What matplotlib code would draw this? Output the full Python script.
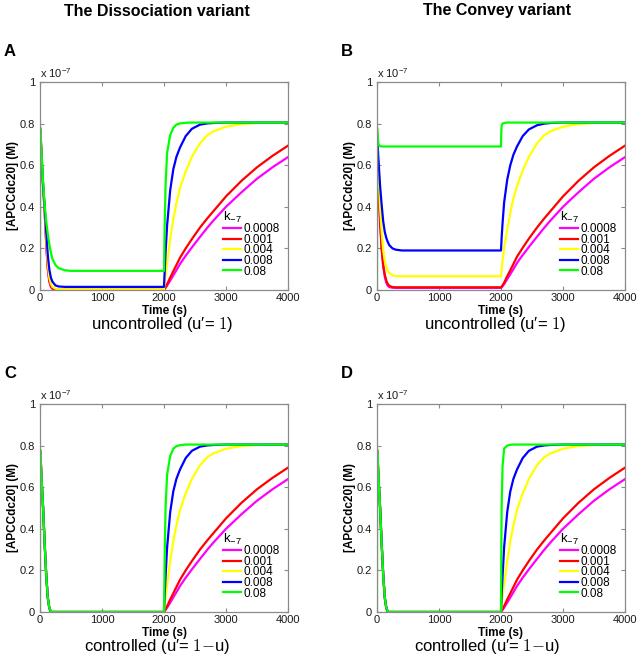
import matplotlib
matplotlib.use('Agg')
import matplotlib.pyplot as plt
from matplotlib.lines import Line2D

plt.rcParams['font.family'] = ['Liberation Sans', 'DejaVu Sans']
plt.rcParams['mathtext.fontset'] = 'custom'
plt.rcParams['mathtext.rm'] = 'Liberation Sans'
plt.rcParams['mathtext.it'] = 'Liberation Sans:italic'
plt.rcParams['mathtext.bf'] = 'Liberation Sans:bold'

# ---------------- data (concentration in units of 1e-7 M) ----------------
K_LABELS = ['0.0008', '0.001', '0.004', '0.008', '0.08']
COLORS = ['#ff00ff', '#ff0000', '#ffff00', '#0000ff', '#00ff00']

X_TICKS = [0, 1000, 2000, 3000, 4000]
Y_TICKS = [0, 0.2, 0.4, 0.6, 0.8, 1.0]
Y_TICKLABELS = ['0', '0.2', '0.4', '0.6', '0.8', '1']

T_EARLY = [0, 2, 10, 25, 50, 75, 100, 125, 150, 175, 200, 250, 300, 400, 500, 1000, 1500, 2000]
T_LATE = [2005, 2010, 2025, 2050, 2100, 2150, 2200, 2258, 2350, 2450, 2580, 2700, 2800,
          3000, 3250, 3500, 3750, 4000]

# Panel A - dissociation, uncontrolled
A_MAG_E = [0.78, 0.775, 0.74, 0.64, 0.5, 0.38, 0.22, 0.10, 0.04, 0.015, 0.006, 0.001, 0, 0, 0, 0, 0, 0]
A_RED_E = [0.78, 0.775, 0.74, 0.64, 0.5, 0.38, 0.23, 0.11, 0.045, 0.02, 0.008, 0.002, 0.001, 0.001, 0.001, 0.001, 0.001, 0.001]
A_YEL_E = [0.78, 0.775, 0.74, 0.64, 0.5, 0.39, 0.25, 0.13, 0.06, 0.03, 0.015, 0.006, 0.004, 0.003, 0.003, 0.003, 0.003, 0.003]
A_BLU_E = [0.78, 0.775, 0.74, 0.64, 0.5, 0.40, 0.28, 0.17, 0.10, 0.06, 0.04, 0.022, 0.017, 0.015, 0.015, 0.015, 0.015, 0.015]
A_GRN_E = [0.0, 0.78, 0.75, 0.66, 0.52, 0.41, 0.33, 0.27, 0.22, 0.18, 0.15, 0.12, 0.105, 0.095, 0.092, 0.092, 0.092, 0.092]

MAG_L = [0.002, 0.004, 0.01, 0.021, 0.045, 0.07, 0.095, 0.125, 0.165, 0.205, 0.255, 0.30, 0.335, 0.40, 0.47, 0.535, 0.59, 0.639]
RED_L = [0.003, 0.006, 0.014, 0.028, 0.06, 0.09, 0.12, 0.155, 0.20, 0.245, 0.30, 0.345, 0.38, 0.45, 0.525, 0.59, 0.645, 0.694]
YEL_L = [0.017, 0.03, 0.07, 0.13, 0.245, 0.34, 0.415, 0.49, 0.57, 0.64, 0.705, 0.745, 0.763, 0.785, 0.798, 0.803, 0.805, 0.805]
A_BLU_L = [0.05, 0.085, 0.18, 0.31, 0.48, 0.58, 0.64, 0.685, 0.74, 0.775, 0.795, 0.801, 0.803, 0.805, 0.805, 0.805, 0.805, 0.805]
A_GRN_L = [0.2, 0.3, 0.5, 0.66, 0.745, 0.78, 0.795, 0.801, 0.804, 0.805, 0.805, 0.805, 0.805, 0.805, 0.805, 0.805, 0.805, 0.805]

# Panel B - convey, uncontrolled
B_MAG_E = [0.74, 0.735, 0.68, 0.5, 0.32, 0.2, 0.115, 0.065, 0.035, 0.02, 0.014, 0.011, 0.01, 0.01, 0.01, 0.01, 0.01, 0.01]
B_RED_E = [0.74, 0.735, 0.68, 0.5, 0.33, 0.2, 0.12, 0.075, 0.045, 0.028, 0.02, 0.014, 0.013, 0.013, 0.013, 0.013, 0.013, 0.013]
B_YEL_E = [0.74, 0.735, 0.69, 0.55, 0.4, 0.28, 0.19, 0.14, 0.11, 0.09, 0.08, 0.07, 0.067, 0.066, 0.066, 0.066, 0.066, 0.066]
B_BLU_E = [0.74, 0.735, 0.70, 0.62, 0.5, 0.41, 0.33, 0.28, 0.25, 0.23, 0.215, 0.20, 0.194, 0.19, 0.19, 0.19, 0.19, 0.19]
B_GRN_E = [0.0, 0.78, 0.74, 0.70, 0.692, 0.69, 0.69, 0.69, 0.69, 0.69, 0.69, 0.69, 0.69, 0.69, 0.69, 0.69, 0.69, 0.69]

B_MAG_L = [0.011, 0.013, 0.018, 0.028, 0.052, 0.076, 0.10, 0.13, 0.168, 0.207, 0.256, 0.30, 0.335, 0.40, 0.47, 0.535, 0.59, 0.639]
B_RED_L = [0.014, 0.016, 0.022, 0.035, 0.066, 0.095, 0.125, 0.16, 0.203, 0.247, 0.30, 0.345, 0.38, 0.45, 0.525, 0.59, 0.645, 0.694]
B_YEL_L = [0.08, 0.10, 0.14, 0.20, 0.29, 0.37, 0.44, 0.50, 0.575, 0.64, 0.705, 0.745, 0.763, 0.785, 0.798, 0.803, 0.805, 0.805]
B_BLU_L = [0.22, 0.25, 0.32, 0.42, 0.53, 0.60, 0.65, 0.69, 0.74, 0.772, 0.792, 0.80, 0.803, 0.805, 0.805, 0.805, 0.805, 0.805]
B_GRN_L = [0.76, 0.79, 0.80, 0.803, 0.805, 0.805, 0.805, 0.805, 0.805, 0.805, 0.805, 0.805, 0.805, 0.805, 0.805, 0.805, 0.805, 0.805]

# Panels C, D - controlled
C_ALL_E = [0.78, 0.775, 0.74, 0.64, 0.5, 0.33, 0.18, 0.07, 0.02, 0.0, 0, 0, 0, 0, 0, 0, 0, 0]
C_GRN_E = [0.0, 0.78, 0.75, 0.65, 0.5, 0.33, 0.18, 0.07, 0.02, 0.003, 0, 0, 0, 0, 0, 0, 0, 0]
C_BLU_L = [0.04, 0.08, 0.17, 0.31, 0.48, 0.58, 0.64, 0.685, 0.74, 0.775, 0.795, 0.801, 0.803, 0.805, 0.805, 0.805, 0.805, 0.805]
C_GRN_L = [0.12, 0.25, 0.5, 0.66, 0.75, 0.785, 0.797, 0.802, 0.805, 0.805, 0.805, 0.805, 0.805, 0.805, 0.805, 0.805, 0.805, 0.805]
D_GRN_L = [0.3, 0.5, 0.7, 0.785, 0.80, 0.804, 0.805, 0.805, 0.805, 0.805, 0.805, 0.805, 0.805, 0.805, 0.805, 0.805, 0.805, 0.805]

PANELS = {
    'A': [(A_MAG_E, MAG_L), (A_RED_E, RED_L), (A_YEL_E, YEL_L), (A_BLU_E, A_BLU_L), (A_GRN_E, A_GRN_L)],
    'B': [(B_MAG_E, B_MAG_L), (B_RED_E, B_RED_L), (B_YEL_E, B_YEL_L), (B_BLU_E, B_BLU_L), (B_GRN_E, B_GRN_L)],
    'C': [(C_ALL_E, MAG_L), (C_ALL_E, RED_L), (C_ALL_E, YEL_L), (C_ALL_E, C_BLU_L), (C_GRN_E, C_GRN_L)],
    'D': [(C_ALL_E, MAG_L), (C_ALL_E, RED_L), (C_ALL_E, YEL_L), (C_ALL_E, C_BLU_L), (C_GRN_E, D_GRN_L)],
}

# ---------------- layout ----------------
W, H = 638, 667
fig = plt.figure(figsize=(W / 100, H / 100), dpi=100)

AX_W, AX_H = 248, 208
POS = {'A': (40, 82), 'B': (377, 82), 'C': (40, 404), 'D': (377, 404)}
SPINE = '#8a8a8a'

for key, series in PANELS.items():
    x0, y0 = POS[key]
    ax = fig.add_axes([x0 / W, 1 - (y0 + AX_H) / H, AX_W / W, AX_H / H])
    for (early, late), col in zip(series, COLORS):
        ax.plot(T_EARLY + T_LATE, list(early) + list(late), color=col, lw=1.6,
                solid_joinstyle='round')
    ax.set_xlim(0, 4000)
    ax.set_ylim(0, 1)
    ax.set_xticks(X_TICKS)
    ax.set_xticklabels([str(t) for t in X_TICKS])
    ax.set_yticks(Y_TICKS)
    ax.set_yticklabels(Y_TICKLABELS)
    ax.tick_params(direction='in', top=True, right=True, length=3, width=0.8,
                   color=SPINE, labelsize=8, labelcolor='#1a1a1a')
    ax.tick_params(axis='x', pad=2.5)
    for s in ax.spines.values():
        s.set_color(SPINE)
        s.set_linewidth(0.9)
    ax.set_xlabel('Time (s)', fontsize=8.5, fontweight='bold')
    ax.set_ylabel('[APCCdc20] (M)', fontsize=8.5, fontweight='bold')
    ax.xaxis.set_label_coords(0.5, -0.072)
    ax.yaxis.set_label_coords(-0.084, 0.5)
    ax.text(0.0, 1.012, r'x 10$^{-7}$', transform=ax.transAxes, fontsize=8,
            ha='left', va='bottom', color='#1a1a1a')
    handles = [Line2D([], [], color=c, lw=1.6) for c in COLORS]
    leg = ax.legend(handles, K_LABELS, title=r'k$_{-7}$', loc='lower right',
                    bbox_to_anchor=(1.0, 0.02), frameon=False, fontsize=8.5,
                    title_fontsize=9.5, handlelength=1.55, handletextpad=0.2,
                    labelspacing=-0.12, borderpad=0.2, alignment='left')
    fig.text((x0 - 36) / W, 1 - (y0 - 30) / H, key, fontsize=12, fontweight='bold',
             ha='left', va='center')

fig.text(157 / W, 1 - 11 / H, 'The Dissociation variant', fontsize=11.5, fontweight='bold',
         ha='center', va='center')
fig.text(497 / W, 1 - 11 / H, 'The Convey variant', fontsize=11.5, fontweight='bold',
         ha='center', va='center')

fig.text(162 / W, 1 - 325 / H, 'uncontrolled (u\u2032= $1$)', fontsize=12,
         ha='center', va='center', math_fontfamily='cm')
fig.text(495 / W, 1 - 325 / H, 'uncontrolled (u\u2032= $1$)', fontsize=12,
         ha='center', va='center', math_fontfamily='cm')
fig.text(157 / W, 1 - 647 / H, 'controlled (u\u2032= $1{-}$u)', fontsize=12,
         ha='center', va='center', math_fontfamily='cm')
fig.text(487 / W, 1 - 647 / H, 'controlled (u\u2032= $1{-}$u)', fontsize=12,
         ha='center', va='center', math_fontfamily='cm')

fig.savefig('out.png', dpi=100, facecolor='white')
